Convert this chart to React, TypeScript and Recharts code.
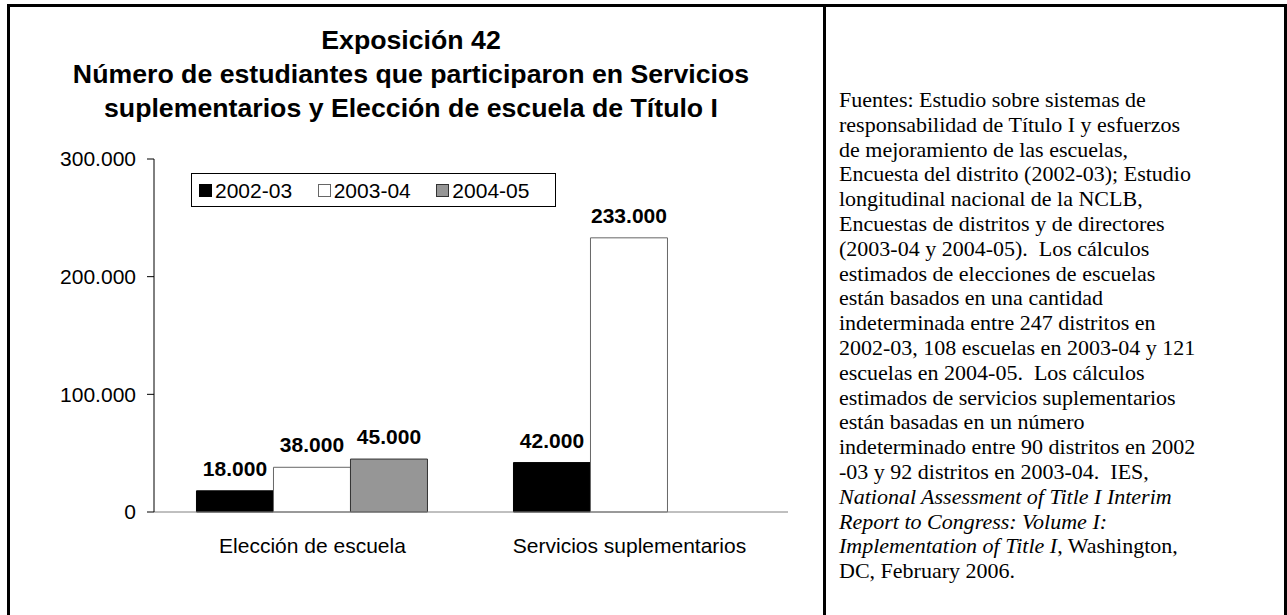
import React from 'react';
import { BarChart, Bar, XAxis, YAxis, Legend, LabelList } from 'recharts';

// categories and series
const categories = ['Elección de escuela', 'Servicios suplementarios'];
const seriesNames = ['2002-03', '2003-04', '2004-05'];
const values0203 = [18000, 42000];
const values0304 = [38000, 233000];
const values0405: (number | null)[] = [45000, null];
const yTicks = [0, 100000, 200000, 300000];

const fills = ['#000000', '#ffffff', '#969696'];
const strokes = ['#000000', '#666666', '#333333'];

const titleLines = [
  'Exposición 42',
  'Número de estudiantes que participaron en Servicios',
  'suplementarios y Elección de escuela de Título I',
];

// source note, one entry per printed line; [text, italic]
const noteLines: [string, boolean][][] = [
  [['Fuentes: Estudio sobre sistemas de', false]],
  [['responsabilidad de Título I y esfuerzos', false]],
  [['de mejoramiento de las escuelas,', false]],
  [['Encuesta del distrito (2002-03); Estudio', false]],
  [['longitudinal nacional de la NCLB,', false]],
  [['Encuestas de distritos y de directores', false]],
  [['(2003-04 y 2004-05).  Los cálculos', false]],
  [['estimados de elecciones de escuelas', false]],
  [['están basados en una cantidad', false]],
  [['indeterminada entre 247 distritos en', false]],
  [['2002-03, 108 escuelas en 2003-04 y 121', false]],
  [['escuelas en 2004-05.  Los cálculos', false]],
  [['estimados de servicios suplementarios', false]],
  [['están basadas en un número', false]],
  [['indeterminado entre 90 distritos en 2002', false]],
  [['-03 y 92 distritos en 2003-04.  IES,', false]],
  [['National Assessment of Title I Interim', true]],
  [['Report to Congress: Volume I:', true]],
  [['Implementation of Title I', true], [', Washington,', false]],
  [['DC, February 2006.', false]],
];

const data = categories.map((name, i) => ({
  name,
  s0: values0203[i],
  s1: values0304[i],
  s2: values0405[i],
}));

const fmt = (v: any) => {
  if (v === null || v === undefined) return '';
  return String(v).replace(/\B(?=(\d{3})+(?!\d))/g, '.');
};

const SANS = '"Liberation Sans", Arial, sans-serif';
const SERIF = '"Liberation Serif", "Times New Roman", serif';

const renderLegend = () => (
  <div
    style={{
      boxSizing: 'border-box',
      width: 365,
      height: 34,
      border: '1px solid #000',
      background: '#fff',
      display: 'flex',
      alignItems: 'center',
      paddingLeft: 7,
      fontFamily: SANS,
      fontSize: 21,
      lineHeight: 1,
      color: '#000',
    }}
  >
    {seriesNames.map((n, i) => (
      <div key={n} style={{ width: 120, display: 'flex', alignItems: 'center' }}>
        <span
          style={{
            boxSizing: 'border-box',
            width: 13,
            height: 13,
            background: fills[i],
            border: `1px solid ${strokes[i]}`,
            marginRight: 3,
          }}
        />
        <span>{n}</span>
      </div>
    ))}
  </div>
);

const App: React.FC = () => {
  return (
    <div style={{ position: 'absolute', left: 0, top: 0, width: 1287, height: 615, background: '#fff', overflow: 'hidden' }}>
      {/* frame */}
      <div
        style={{
          position: 'absolute',
          left: 7,
          top: 4,
          width: 1280,
          height: 640,
          boxSizing: 'border-box',
          border: '3px solid #000',
        }}
      />
      <div style={{ position: 'absolute', left: 823, top: 4, width: 3, height: 620, background: '#000' }} />

      {/* title */}
      <div
        style={{
          position: 'absolute',
          left: 0,
          top: 23,
          width: 822,
          textAlign: 'center',
          fontFamily: SANS,
          fontWeight: 'bold',
          fontSize: 26.7,
          lineHeight: '34px',
          color: '#000',
        }}
      >
        {titleLines.map((t) => (
          <div key={t}>{t}</div>
        ))}
      </div>

      <BarChart
        width={800}
        height={600}
        data={data}
        margin={{ top: 159, right: 12, bottom: 0, left: 0 }}
        barCategoryGap="13.4%"
        barGap={0}
        style={{ position: 'absolute', left: 0, top: 0 }}
      >
        <XAxis
          dataKey="name"
          height={88}
          tickSize={0}
          tickMargin={26}
          axisLine={{ stroke: '#808080' }}
          tick={{ fill: '#000', fontSize: 21, fontFamily: SANS }}
        />
        <YAxis
          width={154}
          domain={[0, 300000]}
          ticks={yTicks}
          tickFormatter={fmt}
          tickSize={7}
          tickMargin={11}
          axisLine={{ stroke: '#000' }}
          tickLine={{ stroke: '#000' }}
          tick={{ fill: '#000', fontSize: 21, fontFamily: SANS }}
        />
        <Legend
          layout="vertical"
          align="center"
          verticalAlign="middle"
          content={renderLegend}
          wrapperStyle={{ left: 191, top: 173, width: 365, height: 34 }}
        />
        {['s0', 's1', 's2'].map((key, i) => (
          <Bar
            key={key}
            dataKey={key}
            name={seriesNames[i]}
            fill={fills[i]}
            stroke={strokes[i]}
            strokeWidth={1}
            isAnimationActive={false}
          >
            <LabelList
              dataKey={key}
              position="top"
              offset={15}
              formatter={fmt}
              style={{ fill: '#000', fontSize: 21, fontWeight: 'bold', fontFamily: SANS }}
            />
          </Bar>
        ))}
      </BarChart>

      {/* source note */}
      <div
        style={{
          position: 'absolute',
          left: 839,
          top: 88,
          fontFamily: SERIF,
          fontSize: 22,
          lineHeight: '24.8px',
          color: '#000',
          whiteSpace: 'pre',
        }}
      >
        {noteLines.map((parts, i) => (
          <div key={i}>
            {parts.map(([t, it], j) => (
              <span key={j} style={{ fontStyle: it ? 'italic' : 'normal' }}>
                {t}
              </span>
            ))}
          </div>
        ))}
      </div>
    </div>
  );
};

export default App;
